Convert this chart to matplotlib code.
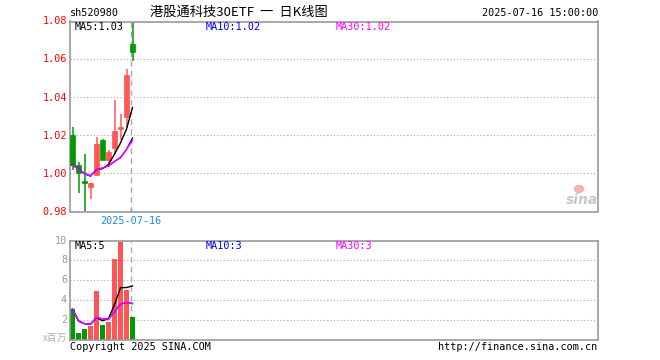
"""
plot.py - daily K-line chart for sh520980 (Sina finance style) with volume panel.
"""

import numpy as np
import pandas as pd
import matplotlib
matplotlib.use("Agg")
import matplotlib.pyplot as plt
from matplotlib.patches import Rectangle, Ellipse

# --- data ------------------------------------------------------------------
dates = ["2025-07-02", "2025-07-03", "2025-07-04", "2025-07-07", "2025-07-08",
         "2025-07-09", "2025-07-10", "2025-07-11", "2025-07-14", "2025-07-15",
         "2025-07-16"]
opens = [1.0202, 1.0044, 0.9960, 0.9930, 0.9991, 1.0175, 1.0070, 1.0132, 1.0235, 1.0298, 1.0684]
highs = [1.0246, 1.0061, 1.0102, 0.9951, 1.0193, 1.0179, 1.0123, 1.0389, 1.0312, 1.0549, 1.0820]
lows = [1.0018, 0.9898, 0.9804, 0.9865, 0.9991, 1.0070, 1.0035, 1.0105, 1.0175, 1.0240, 1.0591]
closes = [1.0044, 1.0004, 0.9949, 0.9951, 1.0154, 1.0070, 1.0112, 1.0223, 1.0246, 1.0518, 1.0640]
volumes = [3.12, 0.70, 1.11, 1.41, 4.93, 1.51, 1.81, 8.15, 9.87, 5.03, 2.32]  # x 1e6

price_ticks = [0.98, 1.00, 1.02, 1.04, 1.06, 1.08]
vol_ticks = [2, 4, 6, 8, 10]
ma_windows = [5, 10, 30]

# --- styling -----------------------------------------------------------------
RED = "#ff5555"
GREEN = "#009a00"
GRAY = "#999999"
MA_COLORS = {5: "black", 10: "#0000ff", 30: "#ff00ff"}
MONO = "DejaVu Sans Mono"
CJK = ["Noto Sans CJK SC", "DejaVu Sans"]

W, H = 660, 360
PX = 6.0          # pixels per trading day
LEFT, RIGHT = 70, 598


def fx(px):
    return px / W


def fy(py):
    return 1 - py / H


def style_axes(ax):
    for sp in ax.spines.values():
        sp.set_color(GRAY)
        sp.set_linewidth(1.2)
    ax.set_xticks([])
    ax.set_yticks([])
    x0 = -0.42
    ax.set_xlim(x0, x0 + (RIGHT - LEFT) / PX)


def main():
    n = len(closes)
    x = np.arange(n)
    up = [c >= o for o, c in zip(opens, closes)]
    colors = [RED if u else GREEN for u in up]

    # Sina draws the MA with whatever history is available
    close_s = pd.Series(closes)
    vol_s = pd.Series(volumes)
    price_ma = {w: close_s.rolling(w, min_periods=1).mean() for w in ma_windows}
    vol_ma = {w: vol_s.rolling(w, min_periods=1).mean() for w in ma_windows}

    fig = plt.figure(figsize=(W / 100, H / 100), dpi=100)

    # ---------------- price panel ----------------
    ax = fig.add_axes([fx(LEFT), fy(211.5), fx(RIGHT - LEFT), (211.5 - 21.5) / H])
    style_axes(ax)
    ax.set_ylim(price_ticks[0], price_ticks[-1])
    for t in price_ticks[1:-1]:
        ax.axhline(t, color="#aaaaaa", lw=0.8, ls=(0, (1, 2)), zorder=0)
    for t in price_ticks:
        fig.text(fx(67), fy(21.5 + (price_ticks[-1] - t) * 1900), f"{t:.2f}",
                 ha="right", va="center", color="red", fontsize=7.3, family=MONO)

    bw = 5 / PX
    for i in range(n):
        ax.vlines(x[i], lows[i], highs[i], color=colors[i], lw=1.1, zorder=2)
        lo, hi = sorted([opens[i], closes[i]])
        ax.add_patch(Rectangle((x[i] - bw / 2, lo), bw, max(hi - lo, 0.0003),
                               facecolor=colors[i], edgecolor=colors[i], lw=0.5, zorder=3))
    for w in ma_windows:
        ax.plot(x, price_ma[w], color=MA_COLORS[w], lw=1, zorder=4)

    last_x = x[-1] - 0.25
    ax.axvline(last_x, color="#aaaaaa", lw=1, ls=(0, (4, 3)), zorder=1)
    ax.plot([last_x, last_x], [0.98, 0.9815], color=GRAY, lw=1, clip_on=False)

    label_x = [75, 206, 336]
    for w, lx in zip(ma_windows, label_x):
        fig.text(fx(lx), fy(27), f"MA{w}:{price_ma[w].iloc[-1]:.2f}", ha="left", va="center",
                 color=MA_COLORS[w], fontsize=7.3, family=MONO)

    fig.text(fx(131), fy(221), dates[-1], ha="center", va="center",
             color="#1e88d8", fontsize=7.3, family=MONO)

    # sina watermark
    fig.add_artist(Ellipse((fx(579), fy(189)), 9 / W, 7 / H, transform=fig.transFigure,
                           color="#f6b0b0", zorder=5))
    fig.text(fx(582), fy(200), "sina", ha="center", va="center", color="#c8c8c8",
             fontsize=10, fontstyle="italic", fontweight="bold", family="DejaVu Sans")

    # ---------------- volume panel ----------------
    axv = fig.add_axes([fx(LEFT), fy(340), fx(RIGHT - LEFT), (340 - 240.5) / H])
    style_axes(axv)
    axv.set_ylim(0, 10)
    for t in vol_ticks[:-1]:
        axv.axhline(t, color="#aaaaaa", lw=0.8, ls=(0, (1, 2)), zorder=0)
    for t in vol_ticks:
        fig.text(fx(67), fy(340 - t * 9.95), f"{t}", ha="right", va="center",
                 color=GRAY, fontsize=7.3, family=MONO)
    fig.text(fx(67), fy(338), "x百万", ha="right", va="center", color="#b0b0b0",
             fontsize=7, family=CJK)

    axv.bar(x, volumes, width=bw, color=colors, zorder=2)
    for w in ma_windows:
        axv.plot(x, vol_ma[w], color=MA_COLORS[w], lw=1, zorder=4)
    axv.axvline(last_x, color="#aaaaaa", lw=1, ls=(0, (4, 3)), zorder=1)

    # volume MA labels are truncated, not rounded
    for w, lx in zip(ma_windows, label_x):
        fig.text(fx(lx), fy(246), f"MA{w}:{int(vol_ma[w].iloc[-1])}", ha="left", va="center",
                 color=MA_COLORS[w], fontsize=7.3, family=MONO)

    # ---------------- header / footer ----------------
    fig.text(fx(70), fy(13), "sh520980", ha="left", va="center", fontsize=7.3, family=MONO)
    fig.text(fx(239), fy(12), "港股通科技30ETF  一  日K线图", ha="center", va="center",
             fontsize=9.5, family=CJK)
    fig.text(fx(598), fy(13), "2025-07-16 15:00:00", ha="right", va="center",
             fontsize=7.3, family=MONO)
    fig.text(fx(70), fy(347), "Copyright 2025 SINA.COM", ha="left", va="center",
             fontsize=7.3, family=MONO)
    fig.text(fx(597), fy(347), "http://finance.sina.com.cn", ha="right", va="center",
             fontsize=7.3, family=MONO)

    fig.savefig("out.png", dpi=100, facecolor="white")


if __name__ == "__main__":
    main()
